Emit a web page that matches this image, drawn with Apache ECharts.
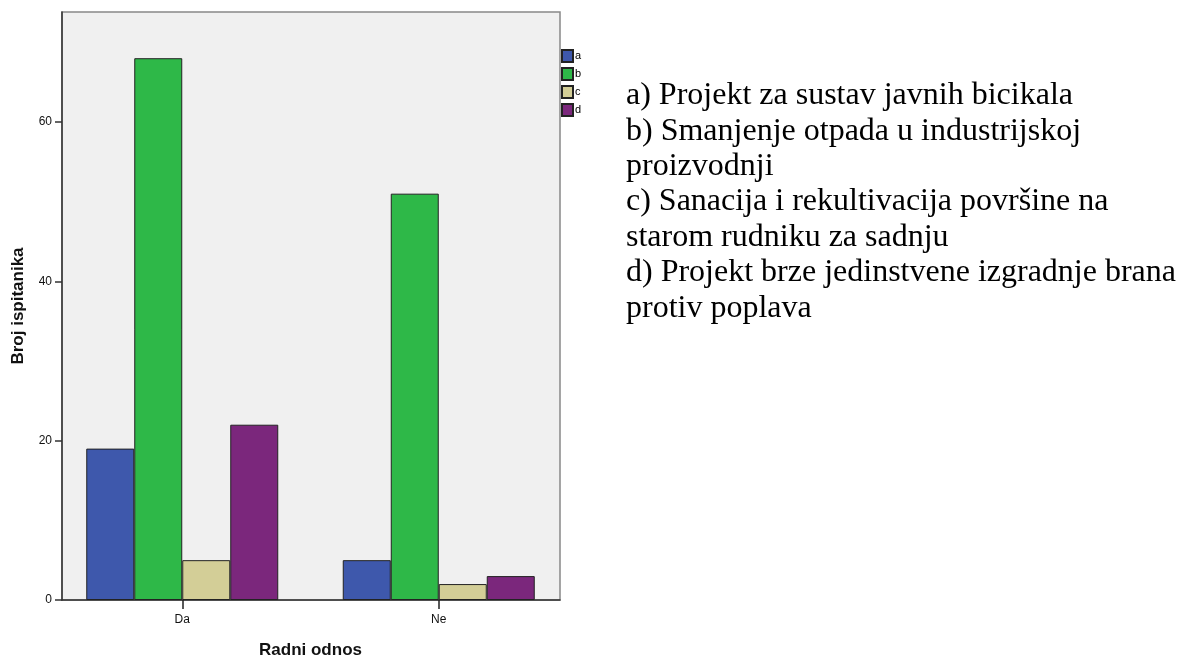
<!DOCTYPE html>
<html>
<head>
<meta charset="utf-8">
<script src="https://cdn.jsdelivr.net/npm/echarts@6/dist/echarts.min.js"></script>
<style>html,body{margin:0;padding:0;background:#fff}#c{width:1181px;height:661px}</style>
</head>
<body>
<div id="c"></div>
<script>
const categories = ['Da', 'Ne'];
const seriesNames = ['a', 'b', 'c', 'd'];
const valuesA = [19, 5];
const valuesB = [68, 51];
const valuesC = [5, 2];
const valuesD = [22, 3];
const yTicks = [0, 20, 40, 60];
const noteLines = [
  'a) Projekt za sustav javnih bicikala',
  'b) Smanjenje otpada u industrijskoj',
  'proizvodnji',
  'c) Sanacija i rekultivacija površine na',
  'starom rudniku za sadnju',
  'd) Projekt brze jedinstvene izgradnje brana',
  'protiv poplava'
];
const colors = ['#3e58ac', '#2eb848', '#d3ce97', '#7b277c'];
const allValues = [valuesA, valuesB, valuesC, valuesD];

const chart = echarts.init(document.getElementById('c'));
const font = 'Arial, "Liberation Sans", sans-serif';
chart.setOption({
  animation: false,
  legend: {
    orient: 'vertical', left: 561, top: 49, padding: 0,
    itemWidth: 11, itemHeight: 12, itemGap: 4, icon: 'rect',
    textStyle: { fontSize: 11, color: '#000', fontFamily: font, padding: [0, 0, 0, -3] },
    data: seriesNames
  },
  grid: [
    { left: 62, top: 12, width: 498, height: 588, outerBoundsMode: 'none', containLabel: false,
      show: true, backgroundColor: '#f0f0f0', borderColor: '#888', borderWidth: 1.5 },
    { left: 54, top: 12, width: 513, height: 588, outerBoundsMode: 'none', containLabel: false }
  ],
  xAxis: [
    { type: 'category', gridIndex: 0, data: categories,
      axisLine: { show: true, lineStyle: { color: '#333', width: 1.5 } },
      axisTick: { show: false }, axisLabel: { show: false } },
    { type: 'category', gridIndex: 1, data: categories,
      axisLine: { show: false },
      axisTick: { show: true, alignWithLabel: true, length: 9, lineStyle: { color: '#222', width: 1.5 } },
      axisLabel: { fontSize: 12, color: '#111', margin: 14, fontFamily: font },
      name: 'Radni odnos', nameLocation: 'middle', nameGap: 42,
      nameTextStyle: { fontSize: 17, fontWeight: 'bold', color: '#111', fontFamily: font } }
  ],
  yAxis: [
    { type: 'value', gridIndex: 0, min: 0, max: 73.8, interval: 20,
      axisLine: { show: true, lineStyle: { color: '#333', width: 1.5 } },
      axisTick: { show: true, length: 7, customValues: yTicks, lineStyle: { color: '#333', width: 1.5 } },
      axisLabel: { fontSize: 12, color: '#111', margin: 10, fontFamily: font, customValues: yTicks },
      splitLine: { show: false },
      name: 'Broj ispitanika', nameLocation: 'middle', nameGap: 35,
      nameTextStyle: { fontSize: 17, fontWeight: 'bold', color: '#111', fontFamily: font } },
    { type: 'value', gridIndex: 1, min: 0, max: 73.8, show: false, splitLine: { show: false } }
  ],
  series: seriesNames.map((n, i) => ({
    name: n, type: 'bar', xAxisIndex: 1, yAxisIndex: 1,
    data: allValues[i], barWidth: 48, barGap: '0%',
    itemStyle: { color: colors[i], borderColor: '#222', borderWidth: 1 }
  })),
  graphic: [{
    type: 'text', left: 626, top: 78,
    style: { text: noteLines.join('\n'), font: '32px "Liberation Serif", "Times New Roman", serif', fill: '#000', lineHeight: 35.4 }
  }]
});
</script>
</body>
</html>
